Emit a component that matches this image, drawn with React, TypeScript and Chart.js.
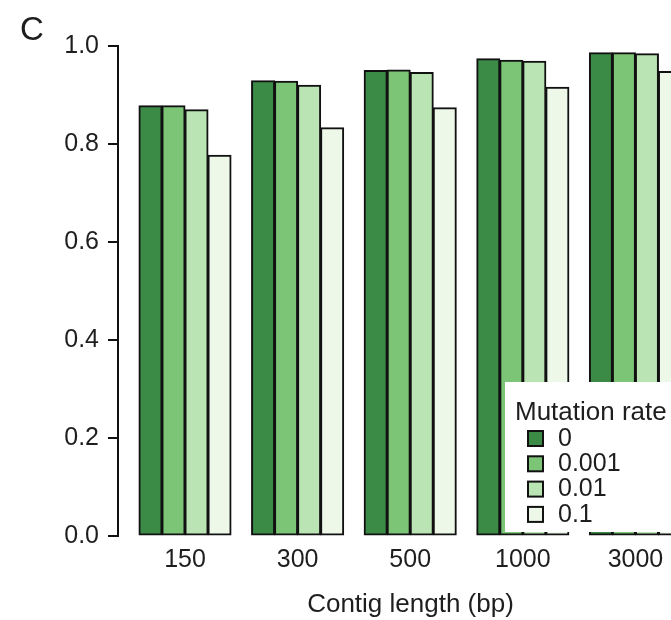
import React, { useEffect, useRef } from 'react';
import { Chart, registerables } from 'chart.js';

Chart.register(...registerables);

// ---- data ----
const categories = ['150', '300', '500', '1000', '3000'];
const seriesLabels = ['0', '0.001', '0.01', '0.1'];
const rate0 = [0.878, 0.929, 0.95, 0.974, 0.986];
const rate0001 = [0.878, 0.928, 0.951, 0.971, 0.986];
const rate001 = [0.87, 0.92, 0.946, 0.969, 0.984];
const rate01 = [0.777, 0.833, 0.874, 0.916, 0.948];
const seriesValues = [rate0, rate0001, rate001, rate01];
const seriesColors = ['#3b8b47', '#7cc576', '#bae4b3', '#edf8e9'];

const panelLabel = 'C';
const legendTitle = 'Mutation rate';
const xTitle = 'Contig length (bp)';

const FONT = '"Liberation Sans", Arial, Helvetica, sans-serif';
const TEXT = '#1e1e1e';

const overlayPlugin = {
  id: 'overlay',
  afterDraw(chart: any) {
    const { ctx, chartArea } = chart;
    ctx.save();
    // panel label
    ctx.fillStyle = TEXT;
    ctx.textAlign = 'left';
    ctx.textBaseline = 'alphabetic';
    ctx.font = `33px ${FONT}`;
    ctx.fillText(panelLabel, 20, 40);

    // legend box (overlapping the bars, as in the reference)
    const boxLeft = 505;
    const boxTop = 382;
    const boxBottom = chartArea.bottom - 4;
    ctx.fillStyle = '#ffffff';
    ctx.fillRect(boxLeft, boxTop, chart.width - boxLeft, boxBottom - boxTop);

    ctx.fillStyle = TEXT;
    ctx.font = `26px ${FONT}`;
    ctx.fillText(legendTitle, 515, 420);

    chart.data.datasets.forEach((ds: any, i: number) => {
      const cy = 438 + i * 25.3;
      ctx.fillStyle = ds.backgroundColor;
      ctx.fillRect(528, cy - 7, 15, 15);
      ctx.strokeStyle = '#111';
      ctx.lineWidth = 2;
      ctx.strokeRect(528, cy - 7, 15, 15);
      ctx.fillStyle = TEXT;
      ctx.textBaseline = 'middle';
      ctx.font = `25px ${FONT}`;
      ctx.fillText(ds.label, 558, cy + 1);
    });
    ctx.restore();
  },
};

export default function App() {
  const ref = useRef<HTMLCanvasElement | null>(null);

  useEffect(() => {
    if (!ref.current) return;
    const chart = new Chart(ref.current, {
      type: 'bar',
      data: {
        datasets: seriesLabels.map((label, s) => ({
          label,
          data: seriesValues[s].map((y, i) => ({ x: i, y })),
          backgroundColor: seriesColors[s],
          borderColor: '#111',
          borderWidth: 2,
          borderSkipped: false,
          inflateAmount: 0.5,
          categoryPercentage: 0.818,
          barPercentage: 1.0,
        })),
      },
      options: {
        responsive: false,
        animation: false,
        layout: { padding: { top: 46, right: 10, bottom: 0, left: 0 } },
        plugins: {
          legend: { display: false },
          tooltip: { enabled: false },
          title: { display: false },
        },
        scales: {
          x: {
            type: 'linear',
            min: -0.595,
            max: 4.6,
            offset: false,
            grid: { display: false, drawTicks: false },
            border: { display: false },
            ticks: {
              stepSize: 1,
              includeBounds: false,
              autoSkip: false,
              maxRotation: 0,
              padding: 9,
              color: TEXT,
              font: { family: FONT, size: 25 },
              callback: (v: any) =>
                Number.isInteger(v) && categories[v] !== undefined ? categories[v] : '',
            },
            title: {
              display: true,
              text: xTitle,
              color: TEXT,
              font: { family: FONT, size: 26 },
              padding: { top: 0, bottom: 0 },
            },
            afterFit: (s: any) => {
              s.height = 84;
            },
          },
          y: {
            min: 0,
            max: 1,
            grid: {
              display: true,
              drawOnChartArea: false,
              drawTicks: true,
              tickLength: 10,
              color: '#111',
              lineWidth: 2,
            },
            border: { display: true, color: '#111', width: 2 },
            ticks: {
              stepSize: 0.2,
              padding: 9,
              color: TEXT,
              font: { family: FONT, size: 25 },
              callback: (v: any) => Number(v).toFixed(1),
            },
            afterFit: (s: any) => {
              s.width = 118;
            },
          },
        },
      } as any,
      plugins: [overlayPlugin],
    });
    return () => chart.destroy();
  }, []);

  return (
    <div
      style={{
        position: 'absolute',
        left: 0,
        top: 0,
        width: 671,
        height: 620,
        overflow: 'hidden',
        background: '#fff',
      }}
    >
      <canvas ref={ref} width={713} height={620} style={{ display: 'block' }} />
    </div>
  );
}
